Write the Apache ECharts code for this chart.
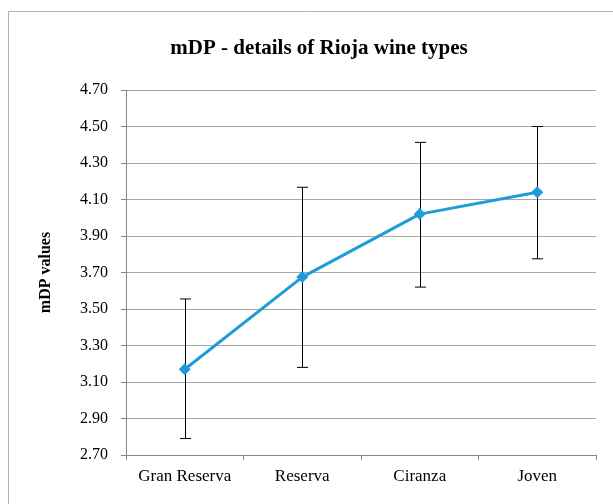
<!DOCTYPE html>
<html><head><meta charset="utf-8">
<script src="https://cdn.jsdelivr.net/npm/echarts@6/dist/echarts.min.js"></script>
<style>html,body{margin:0;padding:0;background:#fff}#c{width:613px;height:504px}</style>
</head><body><div id="c"></div>
<script>
const categories = ['Gran Reserva', 'Reserva', 'Ciranza', 'Joven'];
const meanValues = [3.17, 3.675, 4.02, 4.14];
const errLow = [2.79, 3.18, 3.62, 3.775];
const errHigh = [3.555, 4.167, 4.413, 4.50];
const yMin = 2.70, yMax = 4.70, yStep = 0.20;

const serif = '"Liberation Serif", "DejaVu Serif", serif';
const chart = echarts.init(document.getElementById('c'));
chart.setOption({
  animation: false,
  title: {
    text: 'mDP - details of Rioja wine types',
    left: 314, top: 33, textAlign: 'center',
    textStyle: {fontFamily: serif, fontSize: 21, fontWeight: 'bold', color: '#000'}
  },
  graphic: [{
    type: 'rect', shape: {x: 8.5, y: 11.5, width: 620, height: 520},
    style: {fill: 'none', stroke: '#b3b3b3', lineWidth: 1}, silent: true, z: -1
  }],
  grid: {left: 126, right: 17, top: 90, bottom: 49},
  xAxis: {
    type: 'category', data: categories, boundaryGap: true,
    axisLine: {lineStyle: {color: '#868686', width: 1}},
    axisTick: {show: true, length: 5, lineStyle: {color: '#868686'}},
    axisLabel: {fontFamily: serif, fontSize: 17, color: '#000', margin: 13, interval: 0}
  },
  yAxis: {
    type: 'value', min: yMin, max: yMax, interval: yStep,
    name: 'mDP values', nameLocation: 'middle', nameGap: 72, nameRotate: 90,
    nameTextStyle: {fontFamily: serif, fontSize: 16, fontWeight: 'bold', color: '#000'},
    axisLine: {show: true, lineStyle: {color: '#868686', width: 1}},
    axisTick: {show: true, length: 5, lineStyle: {color: '#868686'}},
    axisLabel: {fontFamily: serif, fontSize: 16, color: '#000', margin: 18,
      formatter: v => v.toFixed(2)},
    splitLine: {lineStyle: {color: '#a6a6a6', width: 1}}
  },
  series: [{
    type: 'custom',
    data: categories.map((c, i) => [i, errLow[i], errHigh[i]]),
    renderItem: (params, api) => {
      const lo = api.coord([api.value(0), api.value(1)]);
      const hi = api.coord([api.value(0), api.value(2)]);
      const x = Math.round(lo[0]) + 0.5, hw = 5.5;
      const st = {stroke: '#000', lineWidth: 1};
      return {type: 'group', children: [
        {type: 'line', shape: {x1: x, y1: lo[1], x2: x, y2: hi[1]}, style: st},
        {type: 'line', shape: {x1: x - hw, y1: lo[1], x2: x + hw, y2: lo[1]}, style: st},
        {type: 'line', shape: {x1: x - hw, y1: hi[1], x2: x + hw, y2: hi[1]}, style: st}
      ]};
    },
    z: 1
  }, {
    type: 'line', data: meanValues,
    symbol: 'diamond', symbolSize: 12,
    lineStyle: {color: '#1f9cd8', width: 3},
    itemStyle: {color: '#1f9cd8'},
    z: 2
  }]
});
</script></body></html>
